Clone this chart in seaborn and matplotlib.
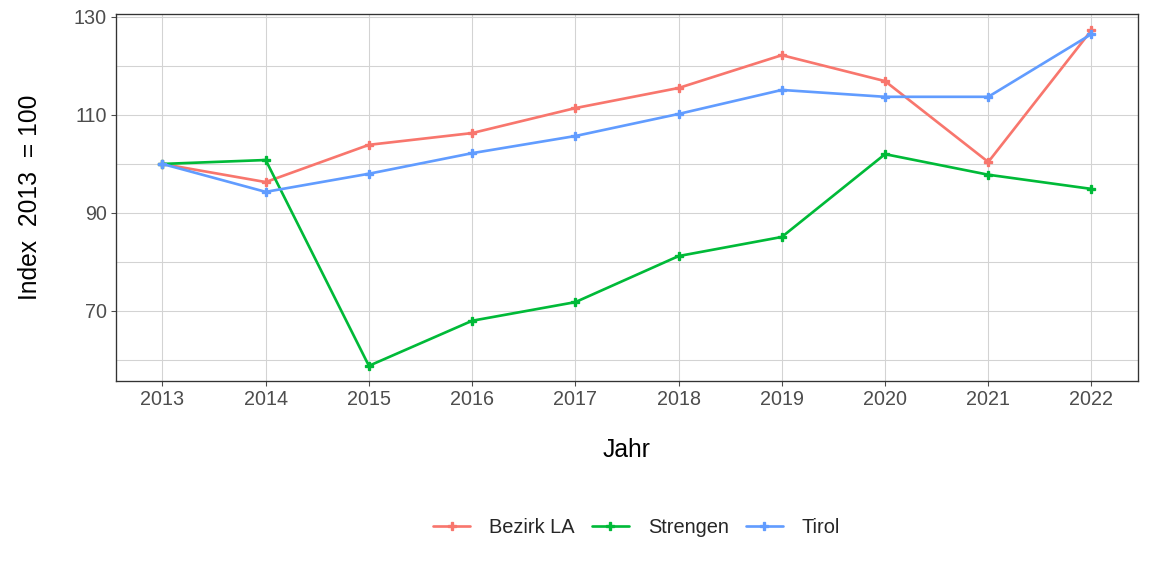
import pandas as pd
import seaborn as sns
import matplotlib
matplotlib.use("Agg")
import matplotlib.pyplot as plt

jahre = [2013, 2014, 2015, 2016, 2017, 2018, 2019, 2020, 2021, 2022]
bezirk_la = [100, 96.3, 103.9, 106.3, 111.4, 115.5, 122.2, 116.9, 100.4, 127.3]
strengen = [100, 100.8, 58.8, 68.0, 71.8, 81.2, 85.1, 102.0, 97.8, 94.9]
tirol = [100, 94.3, 98.0, 102.2, 105.7, 110.2, 115.1, 113.7, 113.7, 126.5]
regionen = ["Bezirk LA", "Strengen", "Tirol"]
farben = ["#F8766D", "#00BA38", "#619CFF"]

df = pd.DataFrame({
    "Jahr": jahre * 3,
    "Index": bezirk_la + strengen + tirol,
    "Region": [r for r in regionen for _ in jahre],
})

sns.set_style("whitegrid")
plt.rcParams["font.family"] = ["Liberation Sans", "DejaVu Sans"]

fig = plt.figure(figsize=(12, 6), dpi=96)
ax = fig.add_axes([0.1007, 0.3385, 0.8871, 0.6372])

sns.lineplot(data=df, x="Jahr", y="Index", hue="Region", palette=farben,
             marker="P", markersize=6, linewidth=2.0, ax=ax)
# marker outline in line colour, so the points look solid
for ln in ax.lines:
    ln.set_markeredgecolor(ln.get_color())
    ln.set_markeredgewidth(1.0)

ax.set_xlim(2012.55, 2022.45)
ax.set_ylim(55.7, 130.6)
ax.set_xticks(jahre)
ax.set_yticks([70, 90, 110, 130])
ax.set_yticks([60, 80, 100, 120], minor=True)
ax.grid(True, which="both", color="#D3D3D3", linewidth=0.8)
ax.tick_params(axis="both", which="major", labelsize=14.8, colors="#4D4D4D",
               length=4, width=0.8, left=True, bottom=True, pad=3)
ax.tick_params(axis="y", which="minor", left=False)
for s in ax.spines.values():
    s.set_color("#333333")
    s.set_linewidth(1.0)

ax.set_xlabel("Jahr", fontsize=18.5, color="black")
ax.set_ylabel("Index  2013  = 100", fontsize=18.5, color="black")
ax.xaxis.set_label_coords(0.5, -0.188)
ax.xaxis.label.set_va("center")
ax.yaxis.set_label_coords(-0.084, 0.5)
ax.yaxis.label.set_va("center")

ax.legend(loc="center", ncol=3, frameon=False, fontsize=15, title=None,
          handlelength=1.85, columnspacing=0.85, handletextpad=0.95)
ax.get_legend().set_bbox_to_anchor((0.5525, 0.085), transform=fig.transFigure)

fig.savefig("out.png", dpi=96)
